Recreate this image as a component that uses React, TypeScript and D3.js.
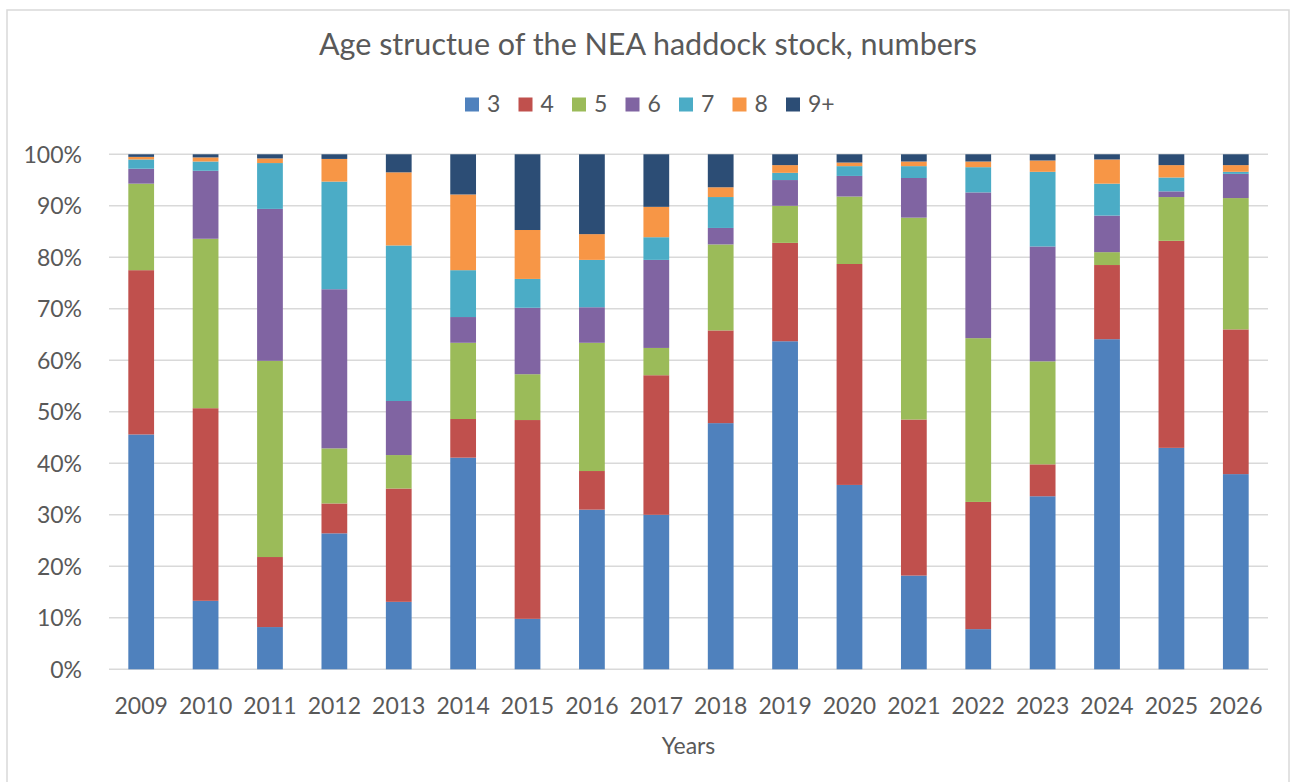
import React from "react";
import * as d3 from "d3";

const years = ["2009","2010","2011","2012","2013","2014","2015","2016","2017","2018","2019","2020","2021","2022","2023","2024","2025","2026"];
const ages = ["3","4","5","6","7","8","9+"];
const colors = ["#4F81BD","#C0504D","#9BBB59","#8064A2","#4BACC6","#F79646","#2C4D75"];

const age3 = [45.6,13.3,8.2,26.4,13.1,41.1,9.8,31.0,30.0,47.8,63.7,35.8,18.2,7.8,33.6,64.1,43.0,37.9];
const age4 = [31.9,37.4,13.6,5.8,22.0,7.5,38.6,7.5,27.1,18.0,19.1,42.9,30.3,24.7,6.2,14.4,40.2,28.1];
const age5 = [16.8,32.9,38.1,10.7,6.5,14.8,8.9,24.9,5.3,16.7,7.2,13.1,39.2,31.8,20.0,2.5,8.5,25.5];
const age6 = [2.9,13.2,29.5,30.9,10.5,5.0,12.9,6.9,17.1,3.2,5.0,4.0,7.7,28.3,22.3,7.1,1.1,4.7];
const age7 = [1.8,1.8,8.9,20.9,30.2,9.1,5.6,9.2,4.4,6.0,1.4,1.9,2.3,4.9,14.5,6.2,2.7,0.4];
const age8 = [0.5,0.8,0.9,4.4,14.2,14.7,9.5,5.0,5.9,1.9,1.5,0.7,0.9,1.1,2.2,4.7,2.4,1.3];
const age9p = [0.5,0.6,0.8,0.9,3.5,7.8,14.7,15.5,10.2,6.4,2.1,1.6,1.4,1.4,1.2,1.0,2.1,2.1];

const yTicks = [0,0.1,0.2,0.3,0.4,0.5,0.6,0.7,0.8,0.9,1];
const title = "Age structue of the NEA haddock stock, numbers";
const xTitle = "Years";

const W = 1291, H = 782;
const margin = { left: 109, right: 1268, top: 154.3, bottom: 669.3 };
const FONT = "Lato, 'Open Sans', sans-serif";
const TXT = "#595959";
const GRID = "#d9d9d9";

export default function App() {
  const series = [age3, age4, age5, age6, age7, age8, age9p];
  const rows = years.map((y, i) => {
    const r: any = { year: y };
    ages.forEach((a, k) => { r[a] = series[k][i]; });
    return r;
  });
  const stack = d3.stack().keys(ages).offset(d3.stackOffsetExpand);
  const stacked = stack(rows);

  const x = d3.scaleBand().domain(years).range([margin.left, margin.right]).paddingInner(0.6).paddingOuter(0.3);
  const y = d3.scaleLinear().domain([0, 1]).range([margin.bottom, margin.top]);
  const pct = d3.format(".0%");

  const legendStart = 465;
  const legendStep = 53.5;

  return (
    <svg width={W} height={H} style={{ position: "absolute", left: 0, top: 0, background: "#fff" }} fontFamily={FONT}>
      <rect x={7} y={10} width={1282} height={800} fill="#fff" stroke={GRID} strokeWidth={1.5} />
      <text x={648} y={55} textAnchor="middle" fontSize={30.5} fill={TXT}>{title}</text>
      {ages.map((a, k) => (
        <g key={a}>
          <rect x={legendStart + k * legendStep} y={97.5} width={14} height={14} fill={colors[k]} />
          <text x={legendStart + k * legendStep + 22} y={112} fontSize={23} fill={TXT}>{a}</text>
        </g>
      ))}
      {yTicks.map((t) => (
        <g key={t}>
          <line x1={margin.left} x2={margin.right} y1={y(t)} y2={y(t)} stroke={GRID} strokeWidth={1.5} />
          <text x={82} y={y(t)} dy="0.36em" textAnchor="end" fontSize={23} fill={TXT}>{pct(t)}</text>
        </g>
      ))}
      {stacked.map((s, k) => (
        <g key={s.key} fill={colors[k]}>
          {s.map((d: any, i: number) => (
            <rect key={i} x={x(years[i])} width={x.bandwidth()} y={y(d[1])} height={Math.max(0, y(d[0]) - y(d[1]))} />
          ))}
        </g>
      ))}
      {years.map((yr) => (
        <text key={yr} x={(x(yr) as number) + x.bandwidth() / 2} y={714} textAnchor="middle" fontSize={23} fill={TXT}>{yr}</text>
      ))}
      <text x={(margin.left + margin.right) / 2} y={754} textAnchor="middle" fontSize={23} fill={TXT}>{xTitle}</text>
    </svg>
  );
}
